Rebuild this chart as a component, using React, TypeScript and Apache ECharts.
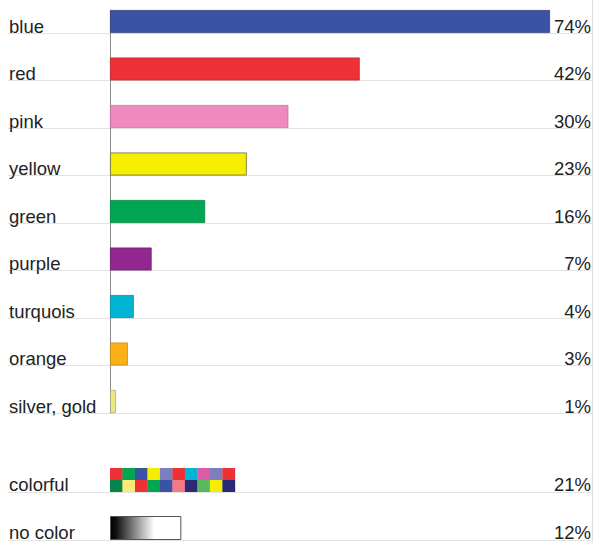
import React, { useEffect, useRef } from "react";
import * as echarts from "echarts";

const topCategories = ["blue", "red", "pink", "yellow", "green", "purple", "turquois", "orange", "silver, gold"];
const topValues = [74, 42, 30, 23, 16, 7, 4, 3, 1];
const bottomCategories = ["colorful", "no color"];
const bottomValues = [21, 12];

const topColors = ["#3b53a4", "#ee3136", "#ee8abf", "#f5ee00", "#00a651", "#92278f", "#00b4d4", "#fbb017", "#ece77a"];
const topBorders = ["#2c3f80", "#c0282c", "#c86f9e", "#6a6a40", "#00853f", "#6f1d6c", "#0090aa", "#c98a10", "#a8a890"];
const colorfulTop = ["#ee3136", "#00a651", "#3b53a4", "#f5ee00", "#7b7fc0", "#ee3136", "#00b4d4", "#dc5aa8", "#7b7fc0", "#ee3136"];
const colorfulBottom = ["#06844a", "#fbe97a", "#ee3136", "#00a651", "#3b53a4", "#f27a86", "#2b2a76", "#5cb85c", "#f5ee00", "#2b2a76"];

const FONT = "'Liberation Sans', Arial, sans-serif";
const labelStyle = {
  fontSize: 18.5,
  color: "#222",
  fontFamily: FONT,
  verticalAlign: "top",
  lineHeight: 9,
};

export default function App() {
  const ref = useRef<HTMLDivElement>(null);
  useEffect(() => {
    if (!ref.current) return;
    const chart = echarts.init(ref.current, null, { renderer: "svg" });
    const maxV = Math.max(...topValues);
    const hiddenX = (gi: number) => ({ type: "value", gridIndex: gi, show: false, min: 0, max: maxV });
    const catLabelAxis = (gi: number, data: string[]) => ({
      type: "category",
      gridIndex: gi,
      inverse: true,
      boundaryGap: false,
      data,
      axisLine: { show: false },
      axisTick: { show: false },
      splitLine: { show: false },
      axisLabel: { ...labelStyle, align: "left", margin: 101, interval: 0 },
    });
    const pctAxis = (gi: number, vals: number[]) => ({
      type: "category",
      gridIndex: gi,
      inverse: true,
      boundaryGap: false,
      position: "right",
      data: vals.map((v) => `${v}%`),
      axisLine: { show: false },
      axisTick: { show: false },
      splitLine: { show: false },
      axisLabel: { ...labelStyle, align: "right", margin: 41, interval: 0 },
    });
    const sepAxis = (gi: number, data: string[]) => ({
      type: "category",
      gridIndex: gi,
      inverse: true,
      data,
      axisLine: { show: false },
      axisTick: { show: false },
      axisLabel: { show: false },
      splitLine: { show: true, interval: 0, lineStyle: { color: "#e2e2e2", width: 1 } },
    });

    chart.setOption({
      animation: false,
      backgroundColor: "#fff",
      grid: [
        { left: 110, top: 21.5, height: 380, width: 440 },
        { left: 110, top: 480, height: 48, width: 440 },
        { left: 8, top: 33, height: 380, width: 584 },
        { left: 8, top: 492, height: 48, width: 584 },
        { left: 8, top: 0, height: 543, width: 584 },
        { left: 110, top: 10, height: 403, width: 440 },
      ],
      xAxis: [hiddenX(0), hiddenX(1), hiddenX(2), hiddenX(3), hiddenX(4), hiddenX(5)],
      yAxis: [
        catLabelAxis(0, topCategories),
        pctAxis(0, topValues),
        catLabelAxis(1, bottomCategories),
        pctAxis(1, bottomValues),
        sepAxis(2, topCategories.slice(1)),
        sepAxis(3, bottomCategories.slice(1)),
        {
          type: "value",
          gridIndex: 4,
          position: "right",
          axisLine: { show: true, onZero: false, lineStyle: { color: "#e0e0e0", width: 1 } },
          axisTick: { show: false },
          axisLabel: { show: false },
          splitLine: { show: false },
        },
        {
          type: "value",
          gridIndex: 5,
          position: "left",
          axisLine: { show: true, onZero: false, lineStyle: { color: "#8a8a8a", width: 1 } },
          axisTick: { show: false },
          axisLabel: { show: false },
          splitLine: { show: false },
        },
      ],
      series: [
        {
          type: "bar",
          xAxisIndex: 0,
          yAxisIndex: 0,
          barWidth: 23,
          data: topValues.map((v, i) => ({
            value: v,
            itemStyle: { color: topColors[i], borderColor: topBorders[i], borderWidth: 0.8 },
          })),
        },
        {
          type: "custom",
          xAxisIndex: 1,
          yAxisIndex: 2,
          encode: { x: 0, y: 1 },
          data: [[bottomValues[0], bottomCategories[0]]],
          renderItem: (params: any, api: any) => {
            const cat = api.value(1);
            const start = api.coord([0, cat]);
            const end = api.coord([api.value(0), cat]);
            const n = colorfulTop.length;
            const w = (end[0] - start[0]) / n;
            const h = 12;
            const children: any[] = [];
            for (let i = 0; i < n; i++) {
              children.push({
                type: "rect",
                shape: { x: start[0] + i * w, y: start[1] - h, width: w + 0.3, height: h },
                style: { fill: colorfulTop[i] },
              });
              children.push({
                type: "rect",
                shape: { x: start[0] + i * w, y: start[1], width: w + 0.3, height: h },
                style: { fill: colorfulBottom[i] },
              });
            }
            return { type: "group", children };
          },
        },
        {
          type: "bar",
          xAxisIndex: 1,
          yAxisIndex: 2,
          barWidth: 24,
          data: ["-", bottomValues[1]],
          itemStyle: {
            color: new echarts.graphic.LinearGradient(0, 0, 1, 0, [
              { offset: 0, color: "#000" },
              { offset: 0.08, color: "#111" },
              { offset: 0.35, color: "#8a8a8a" },
              { offset: 0.62, color: "#fff" },
              { offset: 1, color: "#fff" },
            ]),
            borderColor: "#555",
            borderWidth: 1,
          },
        },
      ],
    });
    return () => chart.dispose();
  }, []);
  return (
    <div
      ref={ref}
      style={{ position: "absolute", left: 0, top: 0, width: 597, height: 543 }}
    />
  );
}
